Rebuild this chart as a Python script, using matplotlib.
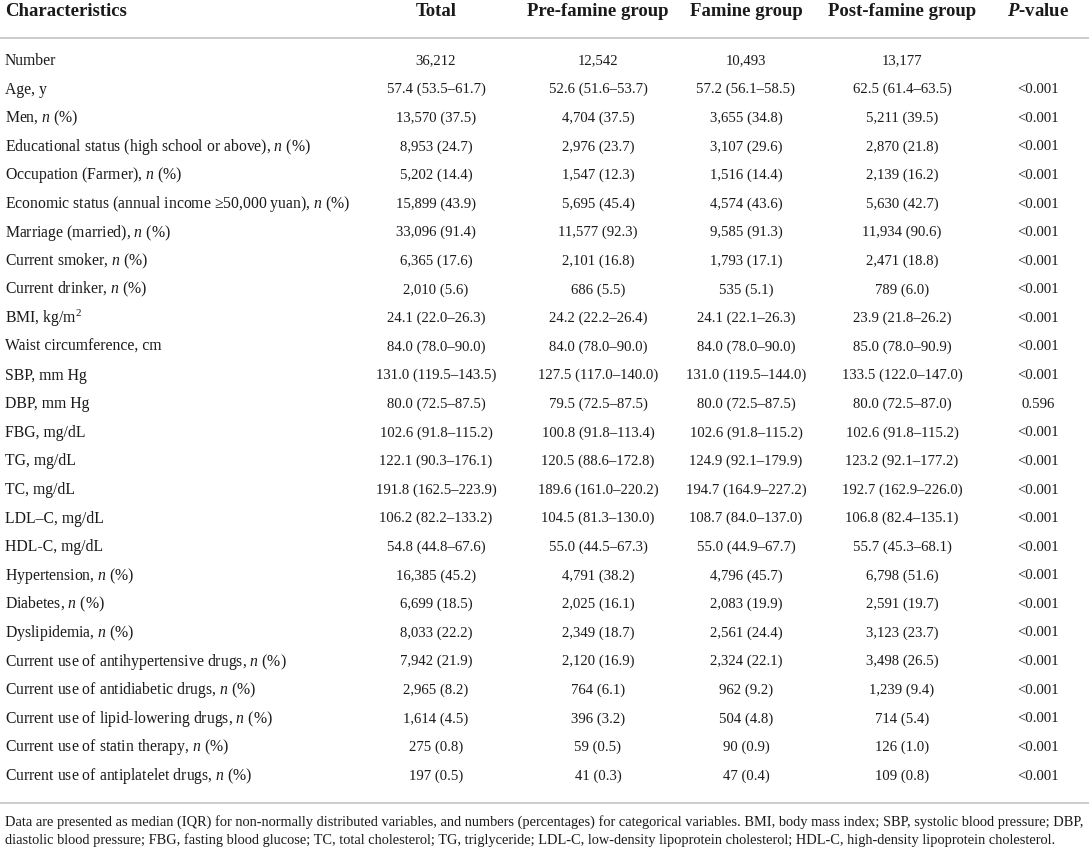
import matplotlib
matplotlib.use("Agg")
import matplotlib.pyplot as plt
from matplotlib.lines import Line2D

plt.rcParams['font.family'] = ['Liberation Serif', 'DejaVu Serif']
plt.rcParams['mathtext.fontset'] = 'custom'
plt.rcParams['mathtext.rm'] = 'Liberation Serif'
plt.rcParams['mathtext.it'] = 'Liberation Serif:italic'
plt.rcParams['mathtext.bf'] = 'Liberation Serif:bold'
plt.rcParams['mathtext.bfit'] = 'Liberation Serif:italic:bold'

headers = ["Characteristics", "Total", "Pre-famine group", "Famine group",
           "Post-famine group", r"$\mathbfit{P}$-value"]

characteristics = [
    "Number", "Age, y", "Men, $n$ (%)",
    "Educational status (high school or above), $n$ (%)",
    "Occupation (Farmer), $n$ (%)",
    "Economic status (annual income \u226550,000 yuan), $n$ (%)",
    "Marriage (married), $n$ (%)", "Current smoker, $n$ (%)",
    "Current drinker, $n$ (%)", "BMI, kg/m$^2$", "Waist circumference, cm",
    "SBP, mm Hg", "DBP, mm Hg", "FBG, mg/dL", "TG, mg/dL", "TC, mg/dL",
    "LDL\u2013C, mg/dL", "HDL-C, mg/dL", "Hypertension, $n$ (%)",
    "Diabetes, $n$ (%)", "Dyslipidemia, $n$ (%)",
    "Current use of antihypertensive drugs, $n$ (%)",
    "Current use of antidiabetic drugs, $n$ (%)",
    "Current use of lipid-lowering drugs, $n$ (%)",
    "Current use of statin therapy, $n$ (%)",
    "Current use of antiplatelet drugs, $n$ (%)",
]

total = ["36,212", "57.4 (53.5\u201361.7)", "13,570 (37.5)", "8,953 (24.7)", "5,202 (14.4)",
         "15,899 (43.9)", "33,096 (91.4)", "6,365 (17.6)", "2,010 (5.6)",
         "24.1 (22.0\u201326.3)", "84.0 (78.0\u201390.0)", "131.0 (119.5\u2013143.5)",
         "80.0 (72.5\u201387.5)", "102.6 (91.8\u2013115.2)", "122.1 (90.3\u2013176.1)",
         "191.8 (162.5\u2013223.9)", "106.2 (82.2\u2013133.2)", "54.8 (44.8\u201367.6)",
         "16,385 (45.2)", "6,699 (18.5)", "8,033 (22.2)", "7,942 (21.9)", "2,965 (8.2)",
         "1,614 (4.5)", "275 (0.8)", "197 (0.5)"]

pre_famine = ["12,542", "52.6 (51.6\u201353.7)", "4,704 (37.5)", "2,976 (23.7)", "1,547 (12.3)",
              "5,695 (45.4)", "11,577 (92.3)", "2,101 (16.8)", "686 (5.5)",
              "24.2 (22.2\u201326.4)", "84.0 (78.0\u201390.0)", "127.5 (117.0\u2013140.0)",
              "79.5 (72.5\u201387.5)", "100.8 (91.8\u2013113.4)", "120.5 (88.6\u2013172.8)",
              "189.6 (161.0\u2013220.2)", "104.5 (81.3\u2013130.0)", "55.0 (44.5\u201367.3)",
              "4,791 (38.2)", "2,025 (16.1)", "2,349 (18.7)", "2,120 (16.9)", "764 (6.1)",
              "396 (3.2)", "59 (0.5)", "41 (0.3)"]

famine = ["10,493", "57.2 (56.1\u201358.5)", "3,655 (34.8)", "3,107 (29.6)", "1,516 (14.4)",
          "4,574 (43.6)", "9,585 (91.3)", "1,793 (17.1)", "535 (5.1)",
          "24.1 (22.1\u201326.3)", "84.0 (78.0\u201390.0)", "131.0 (119.5\u2013144.0)",
          "80.0 (72.5\u201387.5)", "102.6 (91.8\u2013115.2)", "124.9 (92.1\u2013179.9)",
          "194.7 (164.9\u2013227.2)", "108.7 (84.0\u2013137.0)", "55.0 (44.9\u201367.7)",
          "4,796 (45.7)", "2,083 (19.9)", "2,561 (24.4)", "2,324 (22.1)", "962 (9.2)",
          "504 (4.8)", "90 (0.9)", "47 (0.4)"]

post_famine = ["13,177", "62.5 (61.4\u201363.5)", "5,211 (39.5)", "2,870 (21.8)", "2,139 (16.2)",
               "5,630 (42.7)", "11,934 (90.6)", "2,471 (18.8)", "789 (6.0)",
               "23.9 (21.8\u201326.2)", "85.0 (78.0\u201390.9)", "133.5 (122.0\u2013147.0)",
               "80.0 (72.5\u201387.0)", "102.6 (91.8\u2013115.2)", "123.2 (92.1\u2013177.2)",
               "192.7 (162.9\u2013226.0)", "106.8 (82.4\u2013135.1)", "55.7 (45.3\u201368.1)",
               "6,798 (51.6)", "2,591 (19.7)", "3,123 (23.7)", "3,498 (26.5)", "1,239 (9.4)",
               "714 (5.4)", "126 (1.0)", "109 (0.8)"]

p_values = [""] + ["<0.001"] * 11 + ["0.596"] + ["<0.001"] * 13

footnote = [
    "Data are presented as median (IQR) for non-normally distributed variables, and numbers (percentages) "
    "for categorical variables. BMI, body mass index; SBP, systolic blood pressure; DBP,",
    "diastolic blood pressure; FBG, fasting blood glucose; TC, total cholesterol; TG, triglyceride; "
    "LDL-C, low-density lipoprotein cholesterol; HDL-C, high-density lipoprotein cholesterol.",
]

W, H = 1089, 851
fig = plt.figure(figsize=(W / 100, H / 100), dpi=100)
ax = fig.add_axes([0, 0, 1, 1])
ax.set_xlim(0, W)
ax.set_ylim(H, 0)
ax.axis('off')

txt_col = '#1a1a1a'
col_x = [5, 436, 598, 746, 902, 1038]
col_ha = ['left', 'center', 'center', 'center', 'center', 'center']
header_y = 11
row_y0 = 61
row_dy = 28.6

for x, ha, h in zip(col_x, col_ha, headers):
    ax.text(x, header_y, h, ha=ha, va='center', fontsize=13.5, fontweight='bold', color=txt_col)

ax.add_line(Line2D([0, W], [38, 38], color='#c8c8c8', lw=1.3))

columns = [characteristics, total, pre_famine, famine, post_famine, p_values]
for i in range(len(characteristics)):
    y = row_y0 + i * row_dy
    for k, (x, ha, col) in enumerate(zip(col_x, col_ha, columns)):
        fs = 11.3 if k == 0 else 10.6
        ax.text(x, y, col[i], ha=ha, va='center', fontsize=fs, color=txt_col)

ax.add_line(Line2D([0, W], [803, 803], color='#c8c8c8', lw=1.3))

for j, line in enumerate(footnote):
    ax.text(5, 822 + j * 18, line, ha='left', va='center', fontsize=10.4, color=txt_col)

fig.savefig("out.png", dpi=100)
